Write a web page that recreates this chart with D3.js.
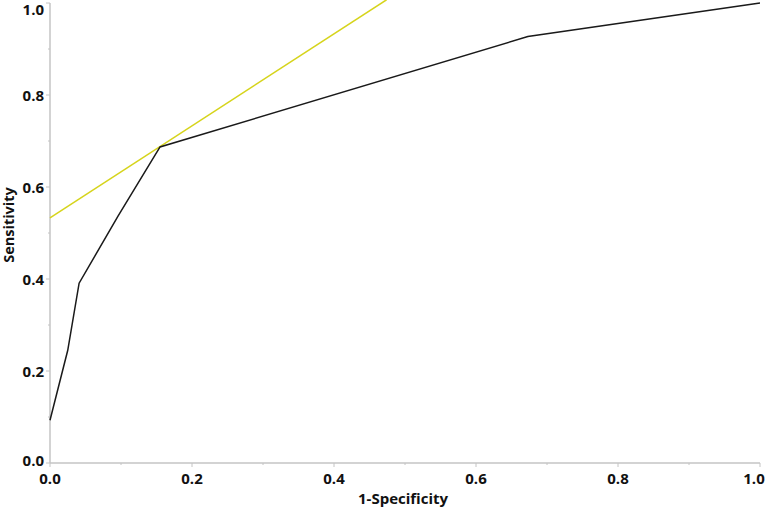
<!DOCTYPE html>
<html>
<head>
<meta charset="utf-8">
<script src="https://cdn.jsdelivr.net/npm/d3@7"></script>
<style>
  body { margin: 0; background: #fff; }
  text { font-family: "Open Sans", "DejaVu Sans", sans-serif; font-weight: bold; fill: #111; }
</style>
</head>
<body>
<div id="wrapper"></div>
<script>
// ROC curve points (1-specificity, sensitivity)
var fpr = [0, 0.025, 0.041, 0.096, 0.155, 0.673, 1.0];
var tpr = [0.093, 0.245, 0.391, 0.537, 0.687, 0.927, 1.0];
// tangent (yellow) line endpoints
var tangentX = [0, 0.474];
var tangentY = [0.533, 1.007];
var tickValues = [0, 0.2, 0.4, 0.6, 0.8, 1.0];
var minorTickValues = [0.1, 0.3, 0.5, 0.7, 0.9];

var width = 766, height = 509;
var plot = { left: 50, right: 760, top: 3, bottom: 463 };

var svg = d3.select("#wrapper")
    .append("svg")
    .attr("width", width)
    .attr("height", height);

var x = d3.scaleLinear().domain([0, 1]).range([plot.left, plot.right]);
var y = d3.scaleLinear().domain([0, 1]).range([plot.bottom, plot.top]);

var axisColor = "#c4c4c4";

// Function: axis line + ticks
var drawAxes = function() {
    svg.append("line")
        .attr("x1", plot.left).attr("x2", plot.left)
        .attr("y1", plot.top).attr("y2", plot.bottom)
        .attr("stroke", axisColor).attr("stroke-width", 1.5);
    svg.append("line")
        .attr("x1", plot.left).attr("x2", plot.right)
        .attr("y1", plot.bottom).attr("y2", plot.bottom)
        .attr("stroke", axisColor).attr("stroke-width", 1.5);

    // x ticks
    svg.selectAll("xmajor")
        .data(tickValues.concat(minorTickValues))
        .enter()
        .append("line")
        .attr("x1", function(d) { return x(d); })
        .attr("x2", function(d) { return x(d); })
        .attr("y1", plot.bottom)
        .attr("y2", function(d, i) { return plot.bottom + (i < tickValues.length ? 4 : 2); })
        .attr("stroke", axisColor);

    // y ticks
    svg.selectAll("ymajor")
        .data(tickValues.concat(minorTickValues))
        .enter()
        .append("line")
        .attr("y1", function(d) { return y(d); })
        .attr("y2", function(d) { return y(d); })
        .attr("x1", plot.left)
        .attr("x2", function(d, i) { return plot.left - (i < tickValues.length ? 4 : 2); })
        .attr("stroke", axisColor);

    svg.selectAll("xlabels")
        .data(tickValues)
        .enter()
        .append("text")
        .text(function(d) { return d.toFixed(1); })
        .attr("x", function(d) { return Math.min(x(d), 754); })
        .attr("y", 484)
        .style("text-anchor", "middle")
        .style("font-size", "15px");

    svg.selectAll("ylabels")
        .data(tickValues)
        .enter()
        .append("text")
        .text(function(d) { return d.toFixed(1); })
        .attr("x", 44)
        .attr("y", function(d) { return Math.min(466, Math.max(15, y(d) + 6)); })
        .style("text-anchor", "end")
        .style("font-size", "15px");

    svg.append("text")
        .text("1-Specificity")
        .attr("x", 403)
        .attr("y", 504)
        .style("text-anchor", "middle")
        .style("font-size", "15px");

    svg.append("text")
        .text("Sensitivity")
        .attr("transform", "translate(14,225) rotate(-90)")
        .style("text-anchor", "middle")
        .style("font-size", "14.5px");
};

drawAxes();

var line = d3.line()
    .x(function(d) { return x(d[0]); })
    .y(function(d) { return y(d[1]); });

svg.append("path")
    .datum(d3.zip(tangentX, tangentY))
    .attr("d", line)
    .attr("fill", "none")
    .attr("stroke", "#d6d41c")
    .attr("stroke-width", 1.5);

svg.append("path")
    .datum(d3.zip(fpr, tpr))
    .attr("d", line)
    .attr("fill", "none")
    .attr("stroke", "#1a1a1a")
    .attr("stroke-width", 1.5);
</script>
</body>
</html>
